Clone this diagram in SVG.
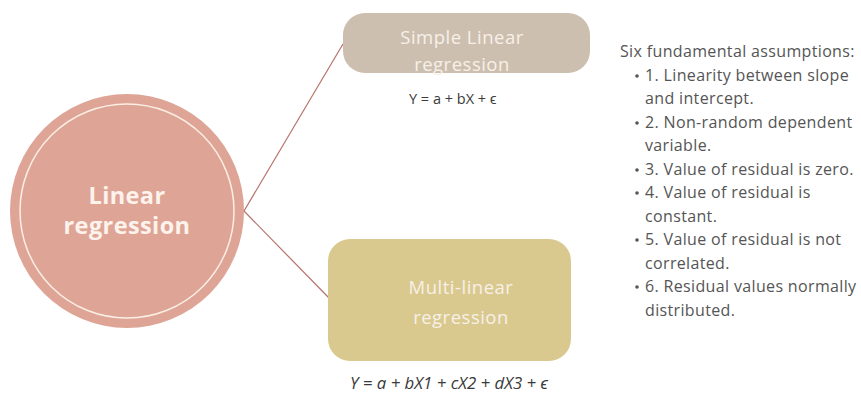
<svg xmlns="http://www.w3.org/2000/svg" width="861" height="394" viewBox="0 0 861 394">
<style>
.lbl{font-family:"Open Sans","Liberation Sans",sans-serif;fill:#f7f0e8;text-anchor:middle;font-size:18.5px;letter-spacing:0.5px}
.main{font-family:"Open Sans","Liberation Sans",sans-serif;font-weight:bold;font-size:23.5px;letter-spacing:0.4px;fill:#fdf3ec;text-anchor:middle}
.eq{font-family:"Open Sans","Liberation Sans",sans-serif;fill:#3a3a3a}
.list{font-family:"Open Sans","Liberation Sans",sans-serif;font-size:16px;letter-spacing:0.35px;fill:#555555}
.conn{stroke:#b5736c;stroke-width:1.2;fill:none}
</style>
<rect width="861" height="394" fill="#ffffff"/>
<g id="connectors">
<line class="conn" x1="244" y1="211" x2="343" y2="44"/>
<line class="conn" x1="244" y1="211" x2="329" y2="298"/>
</g>
<g id="node-linear-regression">
<circle cx="127" cy="211" r="117" fill="#dea597"/>
<circle cx="127" cy="211" r="107" fill="none" stroke="#fbeee4" stroke-width="1.5"/>
<text class="main" x="127" y="204">Linear</text>
<text class="main" x="127" y="234">regression</text>
</g>
<g id="node-simple">
<rect x="343" y="13" width="247" height="60" rx="22" fill="#cdbfaf"/>
<text class="lbl" x="462" y="44">Simple Linear</text>
<text class="lbl" x="462" y="71">regression</text>
<text class="eq" x="409" y="104" font-size="14.5">Y = a + bX + ϵ</text>
</g>
<g id="node-multi">
<rect x="328" y="239" width="243" height="122" rx="22" fill="#dac98f"/>
<text class="lbl" x="461" y="294">Multi-linear</text>
<text class="lbl" x="461" y="324">regression</text>
<text class="eq" x="350" y="389" font-size="16.8" font-style="italic">Y = a + bX1 + cX2 + dX3 + ϵ</text>
</g>
<g id="assumptions">
<text class="list" x="620" y="57">Six fundamental assumptions:</text>
<g fill="#555555">
<circle cx="637" cy="76" r="1.8"/>
<circle cx="637" cy="123" r="1.8"/>
<circle cx="637" cy="170" r="1.8"/>
<circle cx="637" cy="193" r="1.8"/>
<circle cx="637" cy="240" r="1.8"/>
<circle cx="637" cy="287" r="1.8"/>
</g>
<text class="list" x="645" y="80.5">1. Linearity between slope</text>
<text class="list" x="645" y="104">and intercept.</text>
<text class="list" x="645" y="127.5">2. Non-random dependent</text>
<text class="list" x="645" y="151">variable.</text>
<text class="list" x="645" y="174.5">3. Value of residual is zero.</text>
<text class="list" x="645" y="198">4. Value of residual is</text>
<text class="list" x="645" y="221.5">constant.</text>
<text class="list" x="645" y="245">5. Value of residual is not</text>
<text class="list" x="645" y="268.5">correlated.</text>
<text class="list" x="645" y="292">6. Residual values normally</text>
<text class="list" x="645" y="315.5">distributed.</text>
</g>
</svg>
